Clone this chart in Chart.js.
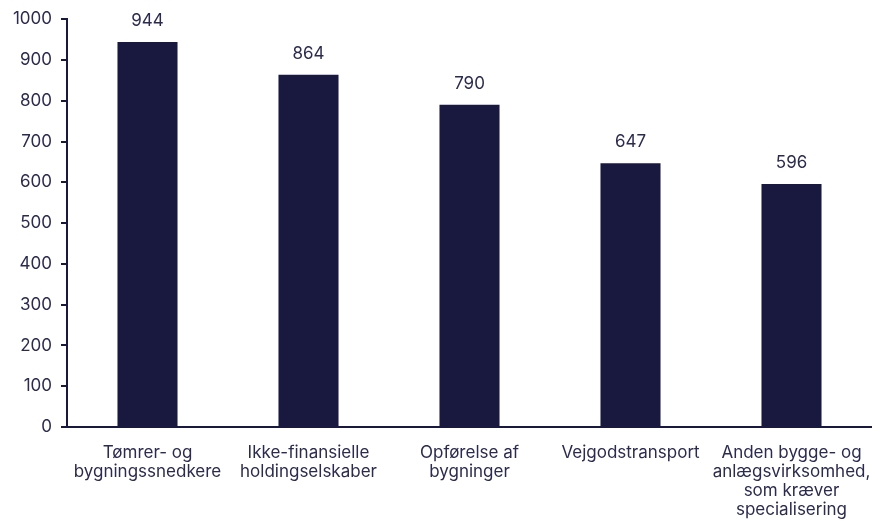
<!DOCTYPE html>
<html>
<head>
<meta charset="utf-8">
<script src="https://cdn.jsdelivr.net/npm/chart.js@4"></script>
<style>
html,body{margin:0;padding:0;background:#fff;}
#wrap{width:872px;height:521px;position:relative;}
</style>
</head>
<body>
<div id="wrap"><canvas id="c"></canvas></div>
<script>
const categories = [
  ["Tømrer- og", "bygningssnedkere"],
  ["Ikke-finansielle", "holdingselskaber"],
  ["Opførelse af", "bygninger"],
  ["Vejgodstransport"],
  ["Anden bygge- og", "anlægsvirksomhed,", "som kræver", "specialisering"]
];
const values = [944, 864, 790, 647, 596];
const yTicks = [0, 100, 200, 300, 400, 500, 600, 700, 800, 900, 1000];

const barColor = '#19193f';
const textColor = '#2b2b4f';
const fontFamily = 'Inter, "Noto Sans", sans-serif';

const valueLabels = {
  id: 'valueLabels',
  afterDatasetsDraw(chart) {
    const ctx = chart.ctx;
    const meta = chart.getDatasetMeta(0);
    ctx.save();
    ctx.fillStyle = textColor;
    ctx.font = '17px ' + fontFamily;
    ctx.textAlign = 'center';
    ctx.textBaseline = 'alphabetic';
    meta.data.forEach((bar, i) => {
      ctx.fillText(String(chart.data.datasets[0].data[i]), bar.x, bar.y - 16);
    });
    ctx.restore();
  }
};

new Chart(document.getElementById('c'), {
  type: 'bar',
  data: {
    labels: categories,
    datasets: [{
      data: values,
      backgroundColor: barColor,
      borderWidth: 0,
      barPercentage: 0.746,
      categoryPercentage: 0.5
    }]
  },
  options: {
    responsive: true,
    maintainAspectRatio: false,
    animation: false,
    layout: { padding: { top: 10, right: 0, left: 0, bottom: 0 } },
    plugins: { legend: { display: false }, tooltip: { enabled: false } },
    scales: {
      x: {
        grid: { display: false },
        border: { display: true, color: barColor, width: 2 },
        ticks: {
          color: textColor,
          font: { size: 17, family: fontFamily, lineHeight: 1.12 },
          maxRotation: 0,
          autoSkip: false,
          padding: 8
        },
        afterFit(scale) { scale.height = 94; scale.paddingRight = 0; scale.paddingLeft = 0; }
      },
      y: {
        min: 0,
        max: 1000,
        afterBuildTicks(scale) { scale.ticks = yTicks.map(v => ({ value: v })); },
        grid: { display: true, drawOnChartArea: false, drawTicks: true, tickLength: 6, color: barColor, lineWidth: 2 },
        border: { display: true, color: barColor, width: 2 },
        ticks: {
          color: textColor,
          font: { size: 17, family: fontFamily },
          padding: 9,
          callback: (v) => String(v)
        },
        afterFit(scale) { scale.width = 67; }
      }
    }
  },
  plugins: [valueLabels]
});
</script>
</body>
</html>
